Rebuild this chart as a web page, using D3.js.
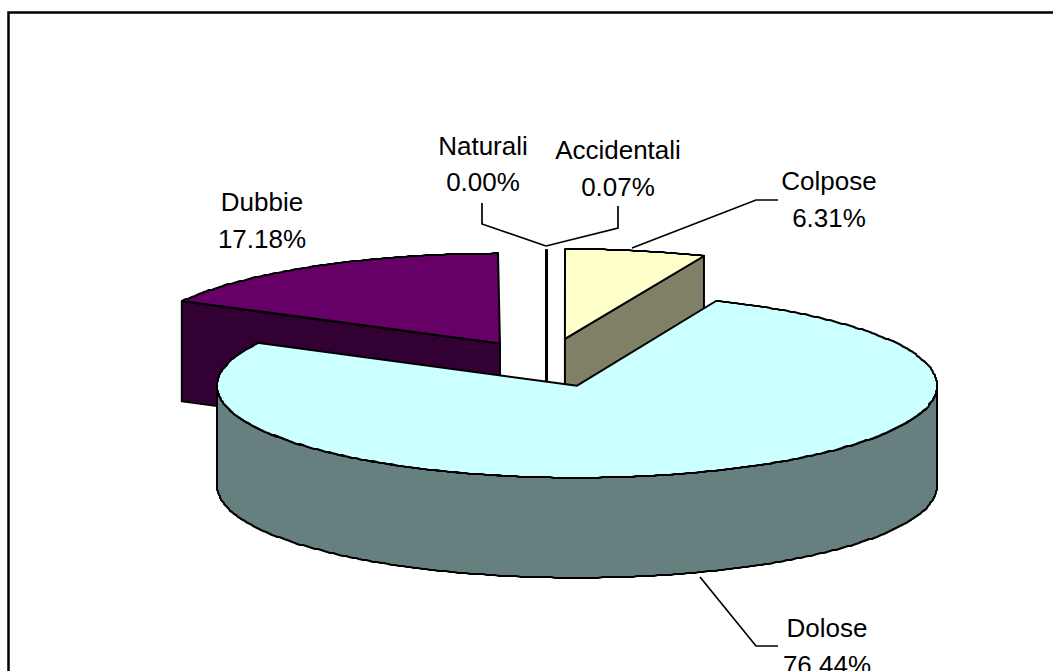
<!DOCTYPE html>
<html>
<head>
<meta charset="utf-8">
<script src="https://cdnjs.cloudflare.com/ajax/libs/d3/7.8.5/d3.min.js"></script>
<style>
html,body{margin:0;padding:0;background:#fff;overflow:hidden}
svg{display:block}
text{font-family:"Liberation Sans",Arial,sans-serif;fill:#000}
</style>
</head>
<body>
<svg id="c" width="1053" height="671"></svg>
<script>
// Data, in the pie's own clockwise order starting from 12 o'clock
const categories = ["Colpose", "Dolose", "Dubbie", "Naturali", "Accidentali"];
const values = [6.31, 76.44, 17.18, 0.00, 0.07];
const valueLabels = ["6.31%", "76.44%", "17.18%", "0.00%", "0.07%"];
const explodeShare = [0.267, 0.256, 0.247, 0, 0.26];
const topColors = ["#FFFFCC", "#CCFFFF", "#660066", "#FFFFFF", "#000000"];
const sideColors = ["#808066", "#668080", "#330033", "#808080", "#000000"];

// Layout
const W = 1053, H = 671;
const center = [546, 362.5];
const dropDolose = 1.5;
const rx = 360, ry = 90, ryDolose = 92, depth = 100;
const labelSize = 26;
const labelPos = {
  Colpose: [829, 190], Dolose: [827, 637], Dubbie: [262, 211],
  Naturali: [483, 154.5], Accidentali: [618, 159]
};
const lineGap = 36.5;
const leaders = {
  Colpose: [[632, 248], [756, 200], [778, 200]],
  Dolose: [[700, 577], [756, 646], [778, 646]],
  Naturali: [[482, 203], [482, 224], [546, 246]],
  Accidentali: [[618, 206], [618, 228], [546, 246]]
};

const svg = d3.select("#c");
svg.append("rect").attr("x", 8.5).attr("y", 12.5).attr("width", W + 20).attr("height", H + 20)
  .attr("fill", "#fff").attr("stroke", "#000").attr("stroke-width", 2.5);

const pie = d3.pie().value(d => d.value).sort(null);
const rows = categories.map((name, i) => ({
  name, value: values[i], label: valueLabels[i],
  explode: explodeShare[i], top: topColors[i], side: sideColors[i]
}));
const arcs = pie(rows);

const origin = d => {
  const mid = (d.startAngle + d.endAngle) / 2;
  const e = d.data.explode * rx;
  const drop = d.data.name === "Dolose" ? dropDolose : 0;
  return [center[0] + e * Math.sin(mid), center[1] + drop - e * Math.cos(mid) * ry / rx];
};
const line = d3.line();
const edge = sel => sel.attr("stroke", "#000").attr("stroke-width", 2).attr("stroke-linejoin", "round");

// paint order: back slices first, the large front slice last
const order = ["Dubbie", "Naturali", "Accidentali", "Colpose", "Dolose"];
const g = svg.append("g");
order.forEach(name => {
  const d = arcs.find(a => a.data.name === name);
  if (d.data.value === 0) return;
  const o = origin(d);
  const r = name === "Dolose" ? ryDolose : ry;
  const px = a => o[0] + rx * Math.sin(a);
  const py = a => o[1] - r * Math.cos(a);
  // the rim is sampled on whole pixels, which gives the slightly rough edge
  const rim = (a0, a1, dy = 0) => d3.range(a0, a1, 0.012).concat([a1])
    .map(a => [Math.round(px(a)), Math.round(py(a)) + dy]);
  const sl = g.append("g");

  // the thinnest sliver reads as one heavy upright line
  if (name === "Accidentali") {
    sl.append("path").attr("d", line([[o[0] + 0.7, py(0)], [o[0] + 0.7, o[1] + depth]]))
      .attr("stroke", "#000").attr("stroke-width", 3).attr("fill", "none");
    return;
  }
  // front outer wall, the part of the rim on the viewer's side
  const a0 = Math.max(d.startAngle, Math.PI / 2), a1 = Math.min(d.endAngle, 3 * Math.PI / 2);
  if (a1 > a0) {
    const upper = rim(a0, a1);
    const lower = rim(a0, a1, depth).reverse();
    sl.append("path").attr("d", line(upper.concat(lower)) + "Z").attr("fill", d.data.side).call(edge);
  }
  // cut faces of the wedge that turn toward the viewer
  [d.startAngle, d.endAngle].forEach(a => {
    const s = Math.sin(a), c = Math.cos(a);
    const showing = (a === d.endAngle && s > 0 && c > 0) || (a === d.startAngle && s < 0 && c > 0);
    if (!showing) return;
    const e = [px(a), py(a)];
    sl.append("path").attr("d", line([o, e, [e[0], e[1] + depth], [o[0], o[1] + depth]]) + "Z")
      .attr("fill", d.data.side).call(edge);
  });
  // top face
  sl.append("path").attr("d", line([o].concat(rim(d.startAngle, d.endAngle))) + "Z")
    .attr("fill", d.data.top).call(edge);
});

// leader lines
Object.values(leaders).forEach(pts => {
  svg.append("path").attr("d", line(pts)).attr("fill", "none").attr("stroke", "#000").attr("stroke-width", 1.7);
});

// labels
arcs.forEach(d => {
  const p = labelPos[d.data.name];
  const t = svg.append("text").attr("text-anchor", "middle").attr("font-size", labelSize);
  t.append("tspan").attr("x", p[0]).attr("y", p[1]).text(d.data.name);
  t.append("tspan").attr("x", p[0]).attr("y", p[1] + lineGap).text(d.data.label);
});
</script>
</body>
</html>
